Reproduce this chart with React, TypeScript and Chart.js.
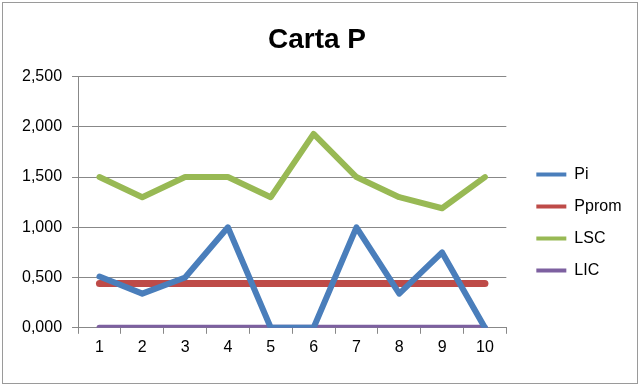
import React, { useEffect, useRef } from "react";
import { Chart, registerables } from "chart.js";

Chart.register(...registerables);

const categories = ["1", "2", "3", "4", "5", "6", "7", "8", "9", "10"];
const piValues = [0.51, 0.34, 0.5, 1.0, 0, 0, 1.0, 0.34, 0.75, 0];
const ppromValues = [0.44, 0.44, 0.44, 0.44, 0.44, 0.44, 0.44, 0.44, 0.44, 0.44];
const lscValues = [1.5, 1.3, 1.5, 1.5, 1.3, 1.93, 1.5, 1.3, 1.19, 1.5];
const licValues = [0, 0, 0, 0, 0, 0, 0, 0, 0, 0];
const chartTitle = "Carta P";

const FONT = "'Liberation Sans', Arial, sans-serif";

const framePlugin = {
  id: "frame",
  beforeDraw(chart: any) {
    const { ctx, width, height } = chart;
    ctx.save();
    ctx.fillStyle = "#ffffff";
    ctx.fillRect(0, 0, width, height);
    ctx.strokeStyle = "#9a9a9a";
    ctx.lineWidth = 1;
    ctx.strokeRect(2.5, 2.5, width - 5, height - 5);
    ctx.restore();
  },
};

export default function App() {
  const ref = useRef<HTMLCanvasElement | null>(null);
  useEffect(() => {
    if (!ref.current) return;
    const mk = (label: string, data: number[], color: string, w: number) => ({
      label,
      data,
      borderColor: color,
      backgroundColor: color,
      borderWidth: w,
      pointRadius: 0,
      pointHoverRadius: 0,
      tension: 0,
      borderJoinStyle: "round" as const,
      borderCapStyle: "round" as const,
      fill: false,
    });
    const chart = new Chart(ref.current, {
      type: "line",
      data: {
        labels: categories,
        datasets: [
          mk("Pi", piValues, "#4a7ebb", 6),
          mk("Pprom", ppromValues, "#be4b48", 7),
          mk("LSC", lscValues, "#98b954", 6),
          mk("LIC", licValues, "#7d60a0", 6),
        ],
      },
      options: {
        responsive: false,
        animation: false,
        layout: { padding: { top: 23, left: 12, right: 18, bottom: 25 } },
        plugins: {
          title: {
            display: true,
            text: chartTitle,
            color: "#000",
            font: { family: FONT, size: 28, weight: "bold" },
            padding: { top: 0, bottom: 20 },
          },
          legend: {
            position: "right",
            title: {
              display: true,
              text: " ",
              font: { family: FONT, size: 14 },
              padding: { top: 0, bottom: 44 },
            },
            labels: {
              color: "#000",
              font: { family: FONT, size: 16 },
              boxWidth: 30,
              boxHeight: 4,
              padding: 16,
              generateLabels: (chart: any) =>
                chart.data.datasets.map((d: any, i: number) => ({
                  text: d.label,
                  fillStyle: d.borderColor,
                  strokeStyle: d.borderColor,
                  lineWidth: 0,
                  fontColor: "#000",
                  datasetIndex: i,
                  hidden: false,
                })),
            },
          },
          tooltip: { enabled: false },
        },
        scales: {
          x: {
            offset: true,
            grid: {
              offset: true,
              drawOnChartArea: false,
              drawTicks: true,
              tickLength: 6,
              color: "#888888",
            },
            border: { color: "#888888", width: 1 },
            ticks: { color: "#000", font: { family: FONT, size: 16 }, padding: 4 },
          },
          y: {
            min: 0,
            max: 2.5,
            grid: { color: "#888888", tickLength: 6, lineWidth: 1 },
            border: { color: "#888888", width: 1 },
            ticks: {
              stepSize: 0.5,
              color: "#000",
              padding: 10,
              font: { family: FONT, size: 16 },
              callback: (v: any) => Number(v).toFixed(3).replace(".", ","),
            },
          },
          gap: {
            type: "linear",
            position: "right",
            display: true,
            grid: { display: false, drawTicks: false },
            border: { display: false },
            ticks: { display: false },
            afterFit: (s: any) => {
              s.width = 14;
            },
          },
        },
      },
      plugins: [framePlugin],
    });
    return () => chart.destroy();
  }, []);
  return (
    <div style={{ position: "absolute", left: 0, top: 0, width: 640, height: 386 }}>
      <canvas ref={ref} width={640} height={386} style={{ display: "block" }} />
    </div>
  );
}
